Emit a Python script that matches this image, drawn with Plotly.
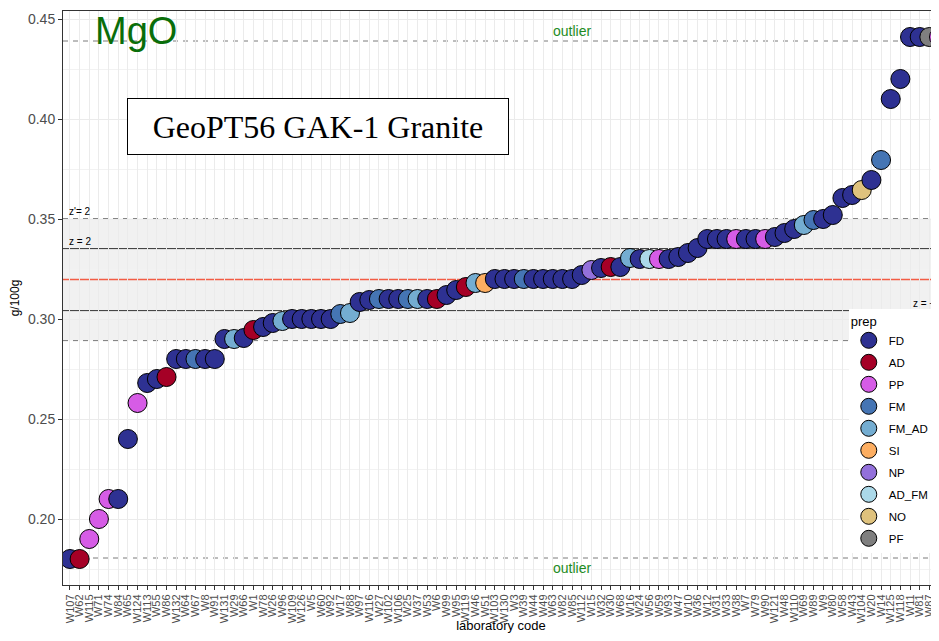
import plotly.graph_objects as go

labs = ["W107", "W62", "W115", "W71", "W74", "W84", "W65", "W124", "W113", "W55",
        "W86", "W132", "W64", "W67", "W8", "W91", "W131", "W29", "W66", "W1",
        "W78", "W26", "W96", "W109", "W126", "W5", "W60", "W92", "W17", "W88",
        "W97", "W116", "W27", "W102", "W106", "W25", "W37", "W53", "W6", "W99",
        "W95", "W119", "W46", "W51", "W103", "W130", "W3", "W39", "W44", "W49",
        "W63", "W82", "W85", "W112", "W15", "W32", "W30", "W68", "W16", "W24",
        "W56", "W59", "W93", "W47", "W10", "W36", "W12", "W31", "W33", "W38",
        "W7", "W79", "W90", "W121", "W48", "W110", "W69", "W89", "W9", "W80",
        "W58", "W43", "W104", "W20", "W14", "W125", "W118", "W11", "W81", "W87",
        "W28"]

mgo = [0.18, 0.18, 0.19, 0.20, 0.21, 0.21, 0.24, 0.258, 0.268, 0.27,
       0.271, 0.28, 0.28, 0.28, 0.28, 0.28, 0.29, 0.29, 0.2905, 0.2945,
       0.296, 0.298, 0.299, 0.30, 0.30, 0.30, 0.30, 0.30, 0.3025, 0.303,
       0.3085, 0.3095, 0.31, 0.31, 0.31, 0.31, 0.31, 0.31, 0.31, 0.312,
       0.3145, 0.316, 0.318, 0.318, 0.32, 0.32, 0.32, 0.32, 0.32, 0.32,
       0.32, 0.32, 0.32, 0.322, 0.3245, 0.3255, 0.326, 0.326, 0.3305, 0.33,
       0.33, 0.33, 0.33, 0.331, 0.333, 0.3355, 0.34, 0.34, 0.34, 0.34,
       0.34, 0.34, 0.34, 0.341, 0.343, 0.345, 0.347, 0.3495, 0.35, 0.352,
       0.3605, 0.362, 0.3645, 0.3695, 0.3795, 0.41, 0.42, 0.441, 0.441, 0.441,
       0.441]

prep = ["FD", "AD", "PP", "PP", "PP", "FD", "FD", "PP", "FD", "FD",
        "AD", "FD", "FD", "FM", "FD", "FD", "FD", "FM_AD", "FD", "AD",
        "FD", "FD", "FM_AD", "FD", "FD", "FD", "FD", "FD", "FM", "FM_AD",
        "FD", "FD", "FM", "FD", "FD", "FM", "FM_AD", "FD", "AD", "FD",
        "FD", "AD", "FM_AD", "SI", "FD", "FD", "FD", "FM", "FD", "FD",
        "FD", "FD", "FD", "FD", "NP", "FD", "AD", "FD", "FM_AD", "FD",
        "AD_FM", "PP", "FD", "FD", "FD", "FD", "FD", "FD", "FD", "PP",
        "FD", "FD", "PP", "FD", "FD", "FD", "FM_AD", "FM", "FD", "FD",
        "FD", "FD", "NO", "FD", "FM", "FD", "FD", "FD", "FD", "PF",
        "PP"]

prep_levels = ["FD", "AD", "PP", "FM", "FM_AD", "SI", "NP", "AD_FM", "NO", "PF"]
prep_colors = ["#2E3192", "#A50026", "#D65CE6", "#4575B4", "#74ADD1",
               "#FDAE61", "#9370DB", "#ABD9E9", "#DFC27D", "#7F7F7F"]

center = 0.3197
z_hi, z_lo = 0.3352, 0.3042
zp_hi, zp_lo = 0.3502, 0.2892
out_hi, out_lo = 0.439, 0.1805

cmap = dict(zip(prep_levels, prep_colors))

fig = go.Figure()
fig.add_trace(go.Scatter(
    x=labs, y=mgo, mode="markers", showlegend=False,
    marker=dict(size=19, color=[cmap[p] for p in prep],
                line=dict(color="black", width=1)),
))
for lv, col in zip(prep_levels, prep_colors):
    fig.add_trace(go.Scatter(
        x=[None], y=[None], mode="markers", name=lv, legendgroup=lv,
        marker=dict(size=19, color=col, line=dict(color="black", width=1)),
    ))

shapes = [
    dict(type="rect", xref="paper", yref="y", x0=0, x1=1, y0=zp_lo, y1=zp_hi,
         fillcolor="rgba(0,0,0,0.055)", line=dict(width=0), layer="below"),
]
for yv, col, dash, w in [(zp_hi, "#7A7A7A", "5px,5px", 1), (zp_lo, "#7A7A7A", "5px,5px", 1),
                         (z_hi, "#333333", "solid", 1), (z_lo, "#333333", "solid", 1),
                         (center, "#F25C45", "solid", 1.5),
                         (out_hi, "#7A7A7A", "5px,5px", 1), (out_lo, "#7A7A7A", "5px,5px", 1)]:
    shapes.append(dict(type="line", xref="paper", yref="y", x0=0, x1=1, y0=yv, y1=yv,
                       line=dict(color=col, width=w, dash=dash), layer="below"))

annotations = [
    dict(text="MgO", xref="paper", yref="paper", x=0.0833, y=0.965,
         xanchor="center", yanchor="middle", showarrow=False,
         font=dict(size=38, color="#0A6E0A", family="Liberation Sans, Arial")),
    dict(text="GeoPT56 GAK-1 Granite", xref="paper", yref="paper", x=0.291, y=0.799,
         xanchor="center", yanchor="middle",
         showarrow=False, width=378, height=53, bgcolor="white", bordercolor="black",
         borderwidth=1, borderpad=1,
         font=dict(size=32, color="black", family="Liberation Serif, Times New Roman")),
    dict(text="z'= 2", xref="paper", yref="y", x=0.005, y=zp_hi, xanchor="left",
         yanchor="bottom", showarrow=False, font=dict(size=10, color="black")),
    dict(text="z = 2", xref="paper", yref="y", x=0.005, y=z_hi, xanchor="left",
         yanchor="bottom", showarrow=False, font=dict(size=10, color="black")),
    dict(text="z = −2", xref="paper", yref="y", x=0.968, y=z_lo, xanchor="left",
         yanchor="bottom", showarrow=False, font=dict(size=10, color="black")),
    dict(text="outlier", xref="paper", yref="y", x=0.581, y=out_hi, xanchor="center",
         yanchor="bottom", showarrow=False, font=dict(size=14, color="#1E8C1E")),
    dict(text="outlier", xref="paper", yref="y", x=0.581, y=out_lo, xanchor="center",
         yanchor="top", showarrow=False, font=dict(size=14, color="#1E8C1E")),
]

# the page body has an 8px margin; keep the page from overflowing (no scrollbars)
fig.update_layout(
    width=931, height=625,
    margin=dict(l=55, r=0, t=3, b=48),
    plot_bgcolor="white", paper_bgcolor="white",
    font=dict(family="Liberation Sans, Arial", color="#4D4D4D"),
    shapes=shapes, annotations=annotations,
    legend=dict(x=0.897, y=0.481, xanchor="left", yanchor="top",
                bgcolor="white", borderwidth=0, tracegroupgap=3,
                title=dict(text="prep", font=dict(size=13, color="black")),
                font=dict(size=11.5, color="black")),
)
fig.update_xaxes(
    type="category", categoryorder="array", categoryarray=labs,
    range=[-0.72, 90], tickmode="linear", dtick=1, tick0=0, automargin=False,
    tickangle=-90, tickfont=dict(size=11, color="#4D4D4D"),
    showgrid=True, gridcolor="#EBEBEB", gridwidth=1.2,
    showline=True, linecolor="#333333", linewidth=1, mirror=True,
    ticks="outside", ticklen=4, tickcolor="#333333",
    title=dict(text="laboratory code", font=dict(size=13, color="black"), standoff=2),
)
fig.update_yaxes(
    range=[0.167, 0.454], tickmode="linear", tick0=0, dtick=0.05, tickformat=".2f",
    automargin=False,
    tickfont=dict(size=14, color="#4D4D4D"),
    showgrid=True, gridcolor="#EBEBEB", gridwidth=1.2,
    minor=dict(dtick=0.025, showgrid=True, gridcolor="#F2F2F2", gridwidth=0.6),
    showline=True, linecolor="#333333", linewidth=1, mirror=False,
    ticks="outside", ticklen=4, tickcolor="#333333", zeroline=False,
    title=dict(text="g/100g", font=dict(size=12, color="black"), standoff=8),
)

fig.write_html("out.html")
